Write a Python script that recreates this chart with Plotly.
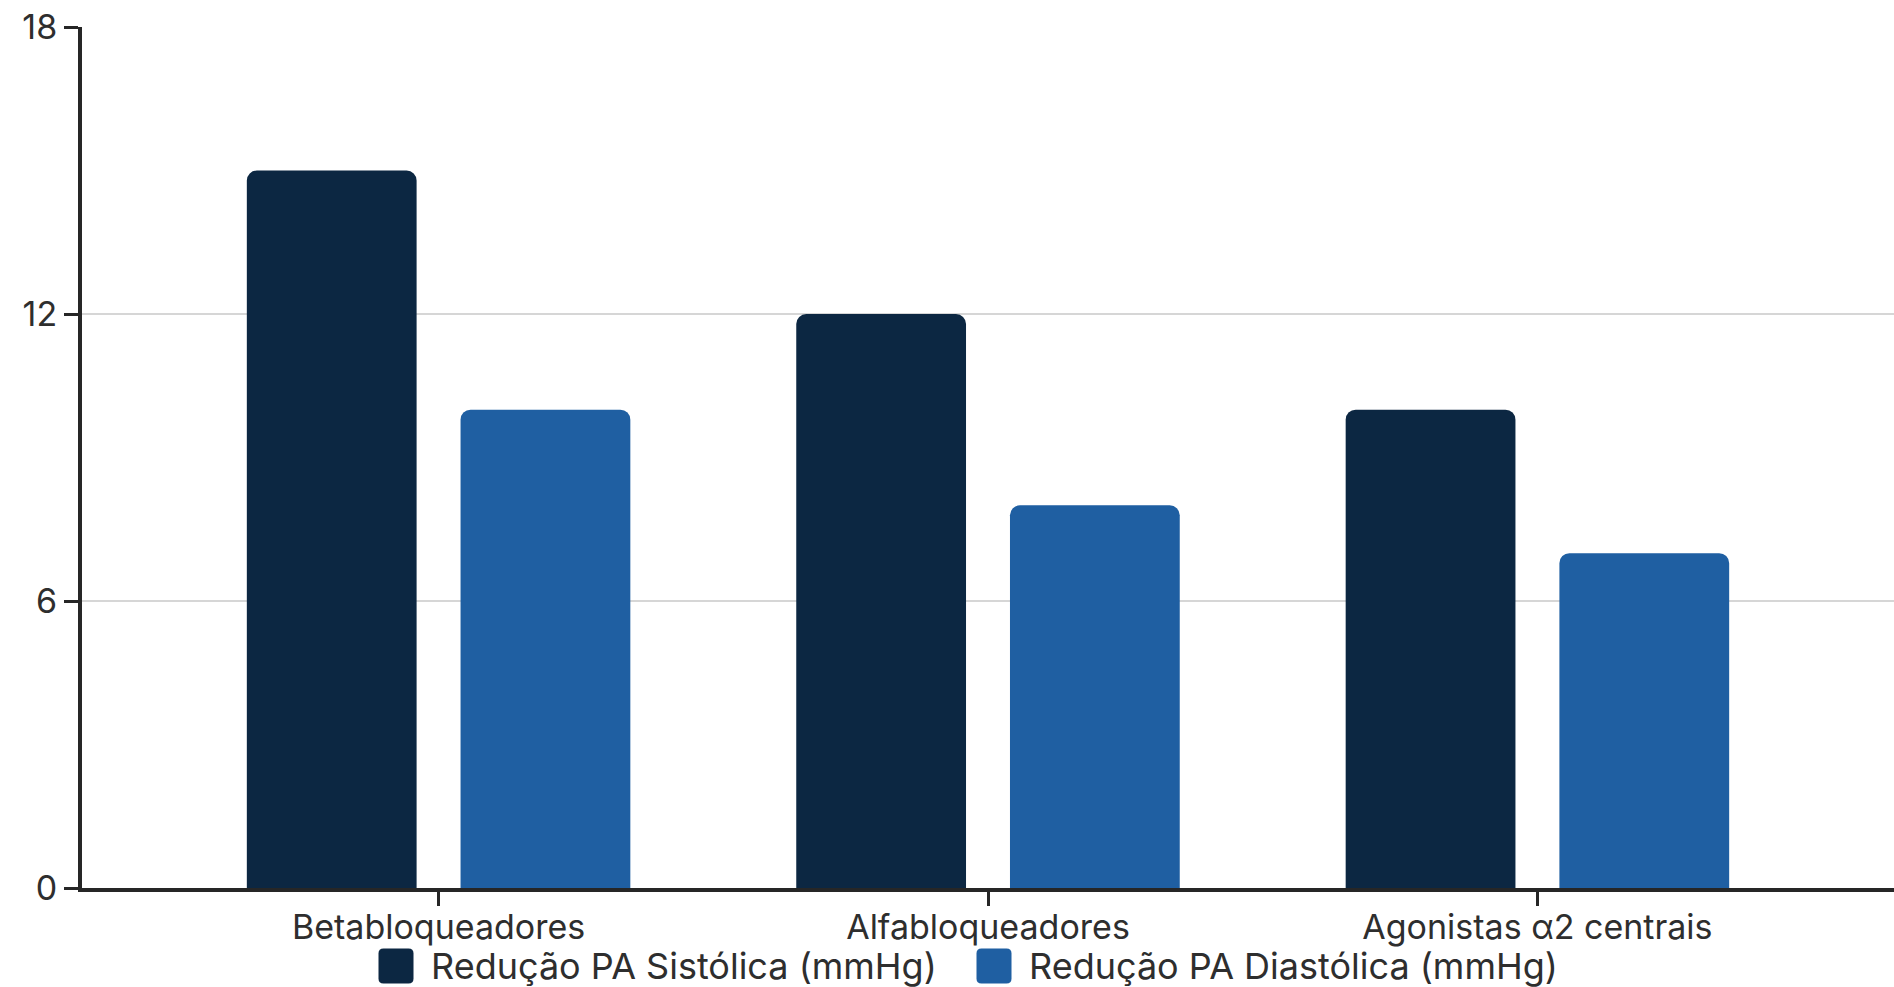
import plotly.graph_objects as go

categories = ["Betabloqueadores", "Alfabloqueadores", "Agonistas α2 centrais"]
sistolica = [15, 12, 10]
diastolica = [10, 8, 7]
series_names = ["Redução PA Sistólica (mmHg)", "Redução PA Diastólica (mmHg)"]
y_ticks = [0, 6, 12, 18]

C_SIS = "#0c2742"
C_DIA = "#1f5fa2"
TXT = "#2e2e2e"
AX = "#262626"

W, H = 1894, 987
ML, MR, MT, MB = 82, 0, 27, 99
PW = W - ML - MR
PH = H - MT - MB

fig = go.Figure()
fig.add_trace(go.Bar(x=categories, y=sistolica, name=series_names[0],
                     marker=dict(color=C_SIS, line=dict(width=0)),
                     offset=-0.349, width=0.309, showlegend=False))
fig.add_trace(go.Bar(x=categories, y=diastolica, name=series_names[1],
                     marker=dict(color=C_DIA, line=dict(width=0)),
                     offset=0.040, width=0.309, showlegend=False))


def px_x(p):
    return (p - ML) / PW


def px_y(p):
    return (H - MB - p) / PH


def rrect(h, r):
    return (f"M {-h+r},{-h} L {h-r},{-h} Q {h},{-h} {h},{-h+r} L {h},{h-r} "
            f"Q {h},{h} {h-r},{h} L {-h+r},{h} Q {-h},{h} {-h},{h-r} "
            f"L {-h},{-h+r} Q {-h},{-h} {-h+r},{-h} Z")


legend_items = [
    (series_names[0], C_SIS, 396, 429),
    (series_names[1], C_DIA, 994, 1027),
]
leg_y = 966
shapes = []
annotations = []
for name, col, sx, tx in legend_items:
    shapes.append(dict(type="path", xref="paper", yref="paper",
                       xsizemode="pixel", ysizemode="pixel",
                       xanchor=px_x(sx), yanchor=px_y(leg_y),
                       path=rrect(17.5, 5), fillcolor=col, line=dict(width=0)))
    annotations.append(dict(xref="paper", yref="paper", x=px_x(tx), y=px_y(leg_y),
                            xanchor="left", yanchor="middle", showarrow=False,
                            text=name, font=dict(size=36, color=TXT, family="Inter")))

fig.update_layout(
    width=W, height=H,
    margin=dict(l=ML, r=MR, t=MT, b=MB, pad=0),
    paper_bgcolor="white", plot_bgcolor="white",
    barmode="overlay", barcornerradius=10,
    font=dict(family="Inter", color=TXT, size=34),
    showlegend=False,
    shapes=shapes, annotations=annotations,
    xaxis=dict(type="category", range=[-0.649, 2.649], showgrid=False,
               showline=True, linecolor=AX, linewidth=4,
               ticks="outside", ticklen=14, tickwidth=3, tickcolor=AX,
               ticklabelstandoff=-8,
               tickfont=dict(size=34, color=TXT), fixedrange=True),
    yaxis=dict(range=[0, 18], tickvals=y_ticks, showgrid=True,
               gridcolor="#d6d6d6", gridwidth=2, zeroline=False,
               showline=True, linecolor=AX, linewidth=4,
               ticks="outside", ticklen=14, tickwidth=3, tickcolor=AX,
               tickfont=dict(size=34, color=TXT), fixedrange=True),
)

fig.write_html("out.html", config={"displayModeBar": False})
